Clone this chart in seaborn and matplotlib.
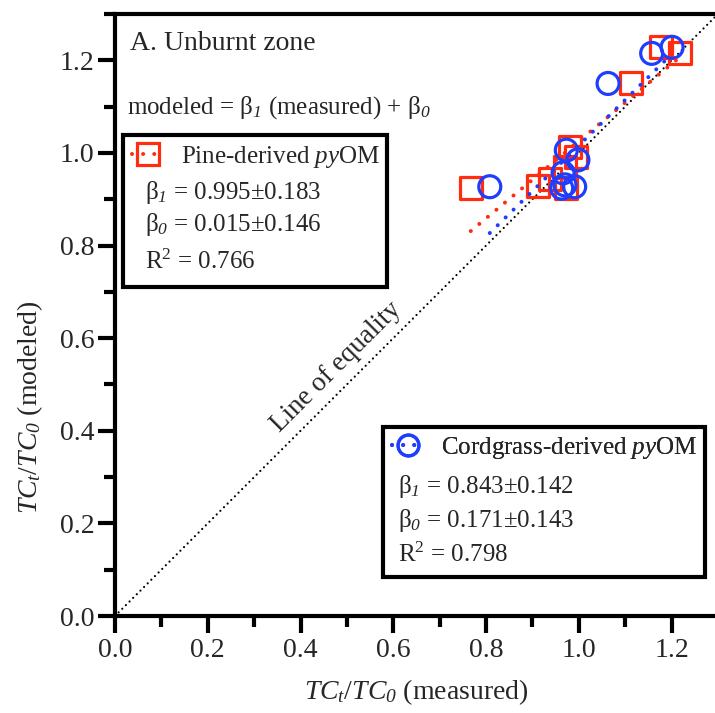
import numpy as np
import pandas as pd
import seaborn as sns
import matplotlib
matplotlib.use("Agg")
import matplotlib.pyplot as plt
from matplotlib.lines import Line2D
from matplotlib.patches import Rectangle
from matplotlib.ticker import MultipleLocator

# ---------------- data ----------------
pine_measured = [0.767, 0.911, 0.937, 0.970, 0.973, 0.981, 0.994, 1.113, 1.177, 1.218]
pine_modeled  = [0.925, 0.929, 0.944, 0.970, 0.924, 1.012, 0.992, 1.150, 1.228, 1.215]
cord_measured = [0.808, 0.963, 0.970, 0.966, 0.991, 0.973, 0.998, 1.063, 1.157, 1.201]
cord_modeled  = [0.927, 0.924, 0.931, 0.957, 0.927, 1.006, 0.985, 1.150, 1.215, 1.228]
equality_line = [0.0, 1.3]
tick_values = [0.0, 0.2, 0.4, 0.6, 0.8, 1.0, 1.2]
tick_labels = ["0.0", "0.2", "0.4", "0.6", "0.8", "1.0", "1.2"]

pine_label = r"Pine-derived $\mathsf{py}$OM"
cord_label = r"Cordgrass-derived $\mathsf{py}$OM"
pine_stats = [r"β$_{\mathsf{1}}$ = 0.995±0.183", r"β$_{\mathsf{0}}$ = 0.015±0.146", r"R$^{2}$ = 0.766"]
cord_stats = [r"β$_{\mathsf{1}}$ = 0.843±0.142", r"β$_{\mathsf{0}}$ = 0.171±0.143", r"R$^{2}$ = 0.798"]

RED = "#FF2C10"
BLUE = "#1E3DFF"

# ---------------- style ----------------
sns.set_theme(style="ticks")
plt.rcParams["font.family"] = ["Liberation Serif", "DejaVu Serif"]
plt.rcParams["mathtext.fontset"] = "custom"
plt.rcParams["mathtext.rm"] = "Liberation Serif"
plt.rcParams["mathtext.it"] = "Liberation Serif:italic"
plt.rcParams["mathtext.sf"] = "Liberation Serif:italic"
plt.rcParams["mathtext.bf"] = "Liberation Serif:bold"

fig = plt.figure(figsize=(7.15, 7.13), dpi=100)
L, R, B, T = 115, 718, 616, 14
ax = fig.add_axes([L / 715, (713 - B) / 713, (R - L) / 715, (B - T) / 713])

def af(px, py):
    return ((px - L) / (R - L), (B - py) / (B - T))

dot_fit = (0, (0.01, 2.75))
dot_eq = (0, (0.01, 2.3))

# line of equality
sns.lineplot(x=equality_line, y=equality_line, ax=ax, color="black", lw=1.6,
             linestyle=dot_eq, dash_capstyle="round", zorder=2)

# scatter points
sns.scatterplot(x=pine_measured, y=pine_modeled, ax=ax, marker="s", s=250,
                facecolor="none", edgecolor=RED, linewidth=2.3, zorder=3)
sns.scatterplot(x=cord_measured, y=cord_modeled, ax=ax, marker="o", s=250,
                facecolor="none", edgecolor=BLUE, linewidth=2.3, zorder=3)

# regression fits
sns.regplot(x=pine_measured, y=pine_modeled, ax=ax, scatter=False, ci=None, color=RED,
            line_kws=dict(lw=2.9, linestyle=dot_fit, dash_capstyle="round", zorder=4))
sns.regplot(x=cord_measured, y=cord_modeled, ax=ax, scatter=False, ci=None, color=BLUE,
            line_kws=dict(lw=2.9, linestyle=dot_fit, dash_capstyle="round", zorder=4))

# axes
ax.set_xlim(0, 1.3)
ax.set_ylim(0, 1.3)
ax.set_xticks(tick_values)
ax.set_xticklabels(tick_labels)
ax.set_yticks(tick_values)
ax.set_yticklabels(tick_labels)
ax.xaxis.set_minor_locator(MultipleLocator(0.1))
ax.yaxis.set_minor_locator(MultipleLocator(0.1))
for s in ["left", "bottom", "top", "right"]:
    ax.spines[s].set_linewidth(3)
    ax.spines[s].set_color("black")
    ax.spines[s].set_visible(True)
ax.tick_params(axis="both", which="major", length=12, width=3, labelsize=20, color="black",
               pad=3, direction="out")
ax.tick_params(axis="both", which="minor", length=8, width=3, color="black", direction="out")
ax.tick_params(axis="x", which="major", pad=4)
ax.tick_params(axis="y", which="major", pad=3)

ax.set_xlabel(r"$TC_{t}/TC_{\mathsf{0}}$ (measured)", fontsize=20)
ax.set_ylabel(r"$TC_{t}/TC_{\mathsf{0}}$ (modeled)", fontsize=20)
ax.xaxis.set_label_coords(0.5, af(0, 692)[1])
ax.yaxis.set_label_coords(af(30, 0)[0], af(0, 407)[1])
ax.xaxis.label.set_va("center")
ax.yaxis.label.set_va("center")

# titles / annotations
ax.text(*af(130, 43), "A. Unburnt zone", fontsize=20, ha="left", va="center", transform=ax.transAxes)
ax.text(*af(127, 108), r"modeled = β$_{\mathsf{1}}$ (measured) + β$_{\mathsf{0}}$", fontsize=18,
        ha="left", va="center", transform=ax.transAxes)
ax.text(0.478, 0.538, "Line of equality", fontsize=19.5, rotation=45, rotation_mode="anchor",
        ha="center", va="center")

# legend boxes
def legend_box(x0, y0, x1, y1, handle_x, row_y, handle, label, stat_x, stat_ys, stats):
    bx, by = af(x0, y1)
    bx2, by2 = af(x1, y0)
    ax.add_patch(Rectangle((bx, by), bx2 - bx, by2 - by, transform=ax.transAxes,
                           facecolor="white", edgecolor="black", lw=3, zorder=5, clip_on=False))
    leg = ax.legend(handles=[handle], labels=[label], loc="center left",
                    bbox_to_anchor=af(handle_x, row_y), bbox_transform=ax.transAxes,
                    frameon=False, fontsize=18, borderpad=0, borderaxespad=0,
                    handlelength=1.25, handletextpad=0.7, numpoints=1)
    leg.set_zorder(6)
    ax.add_artist(leg)
    for yy, st in zip(stat_ys, stats):
        ax.text(*af(stat_x, yy), st, fontsize=18, ha="left", va="center",
                transform=ax.transAxes, zorder=6)

pine_handle = Line2D([], [], color=RED, lw=2.9, linestyle=dot_fit, dash_capstyle="round",
                     marker="s", markersize=15.5, markerfacecolor="none",
                     markeredgecolor=RED, markeredgewidth=2.3)
cord_handle = Line2D([], [], color=BLUE, lw=2.9, linestyle=dot_fit, dash_capstyle="round",
                     marker="o", markersize=15, markerfacecolor="none",
                     markeredgecolor=BLUE, markeredgewidth=2.3)

legend_box(123, 135, 387, 287, 132, 157, pine_handle, pine_label, 145, [192, 225, 262], pine_stats)
legend_box(383, 427, 705, 577, 392, 448, cord_handle, cord_label, 398, [487, 520, 555], cord_stats)

fig.savefig("out.png", dpi=100)
